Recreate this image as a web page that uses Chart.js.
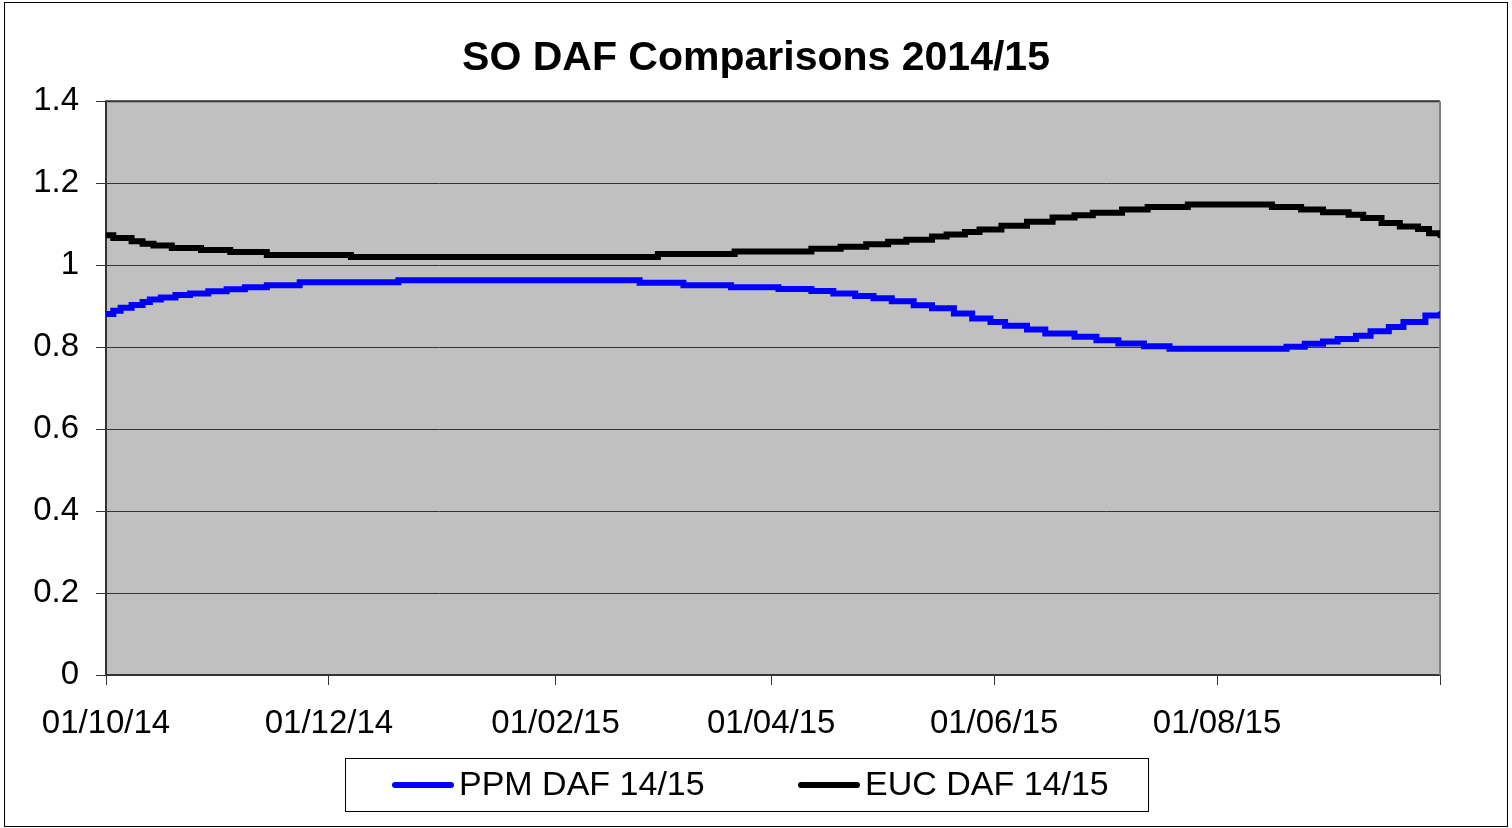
<!DOCTYPE html>
<html>
<head>
<meta charset="utf-8">
<title>SO DAF Comparisons 2014/15</title>
<script src="https://cdn.jsdelivr.net/npm/chart.js@4.4.1/dist/chart.umd.min.js"></script>
<style>
  html, body { margin: 0; padding: 0; background: #fff; }
  #wrap { position: relative; width: 1512px; height: 828px; }
</style>
</head>
<body>
<div id="wrap"><canvas id="grafica"></canvas></div>
<script>
// days counted from 01/10/14, value holds until the next day in the list
const ppmDias = [0, 2, 4, 7, 10, 12, 15, 19, 23, 28, 33, 38, 44, 53, 80, 146, 158, 171, 184, 193, 199, 205, 210, 215, 221, 226, 232, 237, 242, 246, 252, 257, 265, 271, 277, 284, 291, 323, 328, 333, 337, 342, 346, 351, 355, 361, 365];
const ppmValores = [0.881, 0.889, 0.896, 0.903, 0.910, 0.916, 0.921, 0.927, 0.931, 0.936, 0.941, 0.946, 0.951, 0.958, 0.963, 0.957, 0.951, 0.946, 0.942, 0.937, 0.931, 0.925, 0.919, 0.912, 0.902, 0.895, 0.882, 0.870, 0.861, 0.852, 0.843, 0.833, 0.825, 0.817, 0.809, 0.802, 0.796, 0.801, 0.808, 0.814, 0.820, 0.828, 0.839, 0.849, 0.861, 0.877, 0.880];

const eucDias = [0, 2, 7, 10, 13, 18, 26, 34, 44, 67, 151, 172, 193, 201, 208, 214, 219, 226, 230, 235, 239, 245, 252, 259, 265, 270, 278, 285, 296, 319, 327, 333, 340, 344, 349, 354, 359, 362, 365];
const eucValores = [1.073, 1.066, 1.058, 1.052, 1.048, 1.042, 1.037, 1.032, 1.025, 1.020, 1.027, 1.033, 1.040, 1.045, 1.051, 1.057, 1.062, 1.070, 1.075, 1.081, 1.087, 1.096, 1.106, 1.116, 1.122, 1.128, 1.136, 1.142, 1.148, 1.142, 1.136, 1.129, 1.123, 1.115, 1.103, 1.094, 1.088, 1.078, 1.073];

const series = ['PPM DAF 14/15', 'EUC DAF 14/15'];
const colores = ['#0000FF', '#000000'];
const xTickDias = [0, 61, 123, 182, 243, 304, 365];
const xEtiquetas = ['01/10/14', '01/12/14', '01/02/15', '01/04/15', '01/06/15', '01/08/15', ''];
const yEtiquetas = ['0', '0.2', '0.4', '0.6', '0.8', '1', '1.2', '1.4'];

const fuente = "'Liberation Sans', Arial, sans-serif";

function aPuntos(dias, valores) {
  return dias.map((d, i) => ({ x: d, y: valores[i] }));
}

const fondoYMarcos = {
  id: 'fondoYMarcos',
  beforeDraw(chart) {
    const { ctx, chartArea: a } = chart;
    ctx.save();
    ctx.fillStyle = '#C0C0C0';
    ctx.fillRect(a.left, a.top, a.right - a.left, a.bottom - a.top);
    ctx.restore();
  },
  beforeDatasetsDraw(chart) {
    const { ctx, chartArea: a } = chart;
    ctx.save();
    ctx.lineWidth = 2;
    ctx.strokeStyle = '#333';
    ctx.beginPath();
    ctx.moveTo(a.right, a.top);
    ctx.lineTo(a.left, a.top);
    ctx.lineTo(a.left, a.bottom);
    ctx.lineTo(a.right, a.bottom);
    ctx.stroke();
    ctx.strokeStyle = '#808080';
    ctx.beginPath();
    ctx.moveTo(a.right, a.top);
    ctx.lineTo(a.right, a.bottom);
    ctx.stroke();
    ctx.restore();
  },
  afterDraw(chart) {
    const { ctx, chartArea: a } = chart;
    ctx.save();
    // caja de leyenda
    const top = a.bottom + 83;
    ctx.strokeStyle = '#000';
    ctx.lineWidth = 1;
    ctx.strokeRect(345.5, top + 0.5, 803, 53);
    const cy = top + 27;
    const muestras = [392, 798];
    ctx.font = '34px ' + fuente;
    ctx.textBaseline = 'middle';
    ctx.textAlign = 'left';
    series.forEach((nombre, i) => {
      const x0 = muestras[i];
      ctx.strokeStyle = colores[i];
      ctx.lineWidth = 6;
      ctx.lineCap = 'round';
      ctx.beginPath();
      ctx.moveTo(x0 + 3, cy);
      ctx.lineTo(x0 + 59, cy);
      ctx.stroke();
      ctx.fillStyle = '#000';
      ctx.fillText(nombre, x0 + 67, cy + 1);
    });
    // marco exterior
    ctx.lineWidth = 1;
    ctx.strokeStyle = '#000';
    ctx.strokeRect(4.5, 2.5, 1503, 824);
    ctx.restore();
  }
};

const ctx = document.getElementById('grafica').getContext('2d');
const grafica = new Chart(ctx, {
  type: 'line',
  data: {
    datasets: series.map((nombre, i) => ({
      label: nombre,
      data: i === 0 ? aPuntos(ppmDias, ppmValores) : aPuntos(eucDias, eucValores),
      borderColor: colores[i],
      backgroundColor: colores[i],
      borderWidth: 6,
      borderCapStyle: 'round',
      stepped: true,
      pointRadius: 0,
      fill: false
    }))
  },
  options: {
    responsive: true,
    maintainAspectRatio: false,
    animation: false,
    devicePixelRatio: 1,
    layout: { padding: { top: 0, left: 0, right: 0, bottom: 73 } },
    plugins: {
      title: {
        display: true,
        text: 'SO DAF Comparisons 2014/15',
        color: '#000',
        font: { family: fuente, size: 41, weight: 'bold' },
        padding: { top: 34, bottom: 18 }
      },
      legend: { display: false },
      tooltip: { enabled: false }
    },
    scales: {
      x: {
        type: 'linear',
        min: 0,
        max: 365,
        afterBuildTicks(axis) {
          axis.ticks = xTickDias.map(v => ({ value: v }));
        },
        afterFit(s) { s.height = 80; },
        ticks: {
          autoSkip: false,
          maxRotation: 0,
          color: '#000',
          padding: 19,
          font: { family: fuente, size: 33 },
          callback: (valor, i) => xEtiquetas[i]
        },
        grid: { drawOnChartArea: false, drawTicks: true, tickLength: 10, color: '#333', lineWidth: 1 },
        border: { display: false }
      },
      y: {
        min: 0,
        max: 1.4,
        afterFit(s) { s.width = 106; },
        ticks: {
          stepSize: 0.2,
          color: '#000',
          padding: 17,
          font: { family: fuente, size: 33 },
          callback: (valor, i) => yEtiquetas[i]
        },
        grid: { color: '#333', lineWidth: 1, tickLength: 10 },
        border: { display: false }
      },
      yDerecha: {
        type: 'linear',
        position: 'right',
        display: true,
        afterFit(s) { s.width = 72; },
        ticks: { display: false },
        grid: { display: false, drawTicks: false },
        border: { display: false }
      }
    }
  },
  plugins: [fondoYMarcos]
});
</script>
</body>
</html>
